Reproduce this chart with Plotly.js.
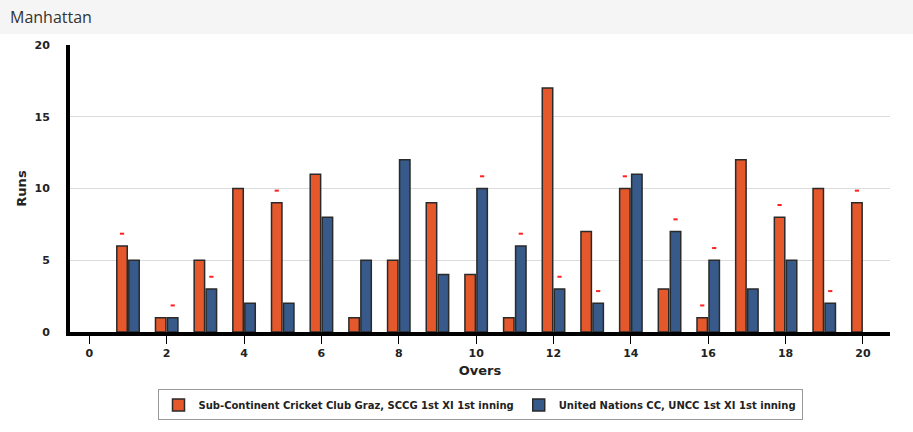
<!DOCTYPE html>
<html>
<head>
<meta charset="utf-8">
<script src="https://cdn.plot.ly/plotly-3.0.1.min.js"></script>
<style>
	body { margin: 0; font-family: "Open Sans", sans-serif; background: #fff; }
	#head { height: 34px; background: #f5f5f5; font-size: 16px; color: #333; line-height: 34px; padding-left: 10px; }
	#plot { width: 913px; height: 398px; }
</style>
</head>
<body>
<div id="head">Manhattan</div>
<div id="plot"></div>
<script>
	// Runs per over for each side
	const overs = [1, 2, 3, 4, 5, 6, 7, 8, 9, 10, 11, 12, 13, 14, 15, 16, 17, 18, 19, 20];
	const sccgRuns = [6, 1, 5, 10, 9, 11, 1, 5, 9, 4, 1, 17, 7, 10, 3, 1, 12, 8, 10, 9];
	const unccRuns = [5, 1, 3, 2, 2, 8, 5, 12, 4, 10, 6, 3, 2, 11, 7, 5, 3, 5, 2, 0];
	// Overs in which a wicket fell
	const sccgWickets = [1, 5, 14, 16, 18, 20];
	const unccWickets = [2, 3, 10, 11, 12, 13, 15, 16, 19];

	const orange = '#e5582b';
	const blue = '#375a8a';

	function wicketTrace(wkts, runs, shift) {
		return {
			x: wkts.map(o => o + shift),
			y: wkts.map(o => runs[overs.indexOf(o)] + 0.85),
			mode: 'markers',
			type: 'scatter',
			showlegend: false,
			hoverinfo: 'skip',
			marker: { symbol: 'line-ew', size: 3, line: { color: '#ff2020', width: 2 } }
		};
	}

	const outline = runs => ({ color: '#2a2a2a', width: runs.map(v => v > 0 ? 1.5 : 0) });

	const data = [
		{
			x: overs, y: sccgRuns, type: 'bar', name: 'Sub-Continent Cricket Club Graz, SCCG 1st XI 1st inning',
			width: 0.27, offset: -0.29,
			marker: { color: orange, line: outline(sccgRuns) }
		},
		{
			x: overs, y: unccRuns, type: 'bar', name: 'United Nations CC, UNCC 1st XI 1st inning',
			width: 0.27, offset: 0.02,
			marker: { color: blue, line: outline(unccRuns) }
		},
		wicketTrace(sccgWickets, sccgRuns, -0.155),
		wicketTrace(unccWickets, unccRuns, 0.155)
	];

	const layout = {
		width: 913, height: 398,
		margin: { l: 70, r: 23, t: 11, b: 64 },
		paper_bgcolor: '#fff', plot_bgcolor: '#fff',
		font: { family: 'Verdana, "DejaVu Sans", sans-serif', size: 11, color: '#222' },
		xaxis: {
			range: [-0.5, 20.7], tickvals: [0, 2, 4, 6, 8, 10, 12, 14, 16, 18, 20],
			showgrid: false, zeroline: false, showline: true, linewidth: 4, linecolor: '#000',
			ticks: 'outside', ticklen: 8, tickcolor: '#000',
			tickfont: { size: 11, color: '#222', weight: 'bold' },
			title: { text: 'Overs', font: { size: 13, weight: 'bold' }, standoff: 8 }
		},
		yaxis: {
			range: [0, 20], tickvals: [0, 5, 10, 15, 20],
			showgrid: true, gridcolor: '#dcdcdc', zeroline: false,
			showline: true, linewidth: 4, linecolor: '#000',
			tickfont: { size: 11, color: '#222', weight: 'bold' },
			ticklabelstandoff: 14,
			title: { text: 'Runs', font: { size: 13, weight: 'bold' }, standoff: 6 }
		},
		bargap: 0,
		showlegend: true,
		legend: {
			orientation: 'h', x: 0.5, xanchor: 'center', y: -0.2, yanchor: 'top',
			bordercolor: '#999', borderwidth: 1,
			font: { size: 10, weight: 'bold', color: '#222' }
		}
	};

	Plotly.newPlot('plot', data, layout, { displayModeBar: false, staticPlot: true });
</script>
</body>
</html>
